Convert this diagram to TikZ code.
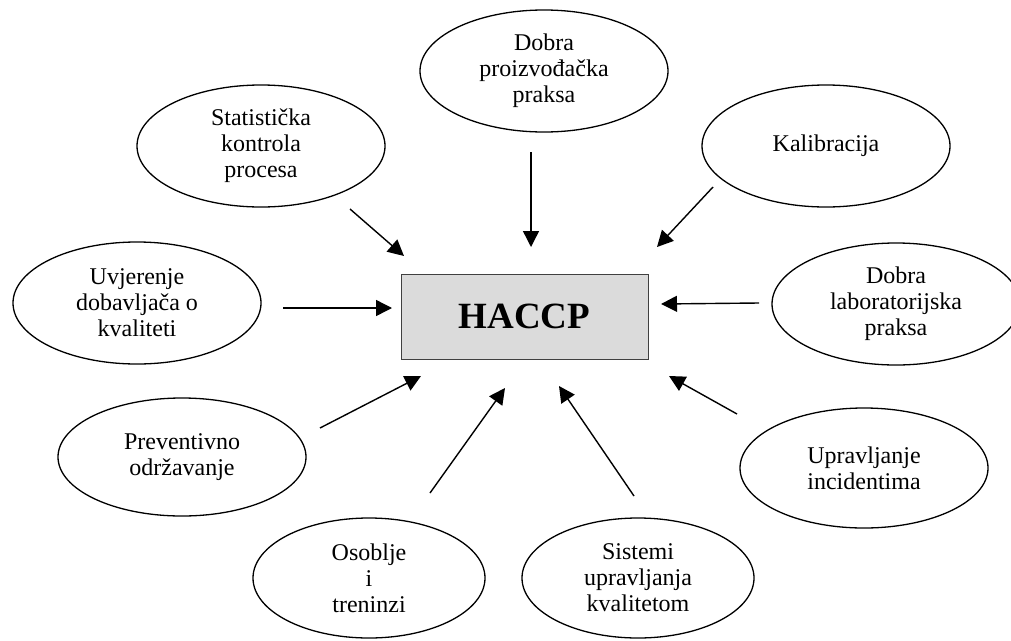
\documentclass[tikz,border=0pt]{standalone}
\usepackage{fontspec}
\setmainfont{Liberation Serif}
\usetikzlibrary{shapes.geometric,arrows.meta}

\begin{document}
\begin{tikzpicture}[x=1pt,y=-1pt,
  topic/.style={ellipse,draw=black,line width=1.3pt,inner sep=0pt,
    minimum width=248pt,minimum height=122pt,align=center,
    font=\fontsize{24}{26}\selectfont},
  small/.style={minimum width=232pt,minimum height=120pt},
  core/.style={rectangle,draw=black!75,line width=1pt,fill=black!14,
    minimum width=247pt,minimum height=85pt,inner sep=0pt,
    font=\fontsize{37}{40}\selectfont\bfseries},
  feed/.style={line width=1.4pt,-{Triangle[length=16pt,width=16pt]}}]
\useasboundingbox (0,0) rectangle (1011,640);
\begin{scope}
\clip (0,0) rectangle (1011,640);

% central box
\node[core] (haccp) at (524.5,316.5) {HACCP};

% surrounding topics
\node[topic] (gmp)  at (544,71)  {Dobra\\proizvođačka\\praksa};
\node[topic] (spc)  at (261,146) {Statistička\\kontrola\\procesa};
\node[topic] (kal)  at (826,146) {Kalibracija};
\node[topic] (uvj)  at (137,303) {Uvjerenje\\dobavljača o\\kvaliteti};
\node[topic] (glp)  at (896,304) {Dobra\\laboratorijska\\praksa};
\node[topic,minimum height=118pt] (prev) at (182,457) {Preventivno\\održavanje};
\node[topic,minimum height=120pt] (inc)  at (864,468) {Upravljanje\\incidentima};
\node[topic,small] (osob) at (369,578) {Osoblje\\i\\treninzi};
\node[topic,small] (qms)  at (638,578) {Sistemi\\upravljanja\\kvalitetom};
\end{scope}

% arrow ends
\coordinate (gmp-s)  at (531,152); \coordinate (gmp-t)  at (531,247);
\coordinate (spc-s)  at (350,209); \coordinate (spc-t)  at (404,256);
\coordinate (kal-s)  at (713,187); \coordinate (kal-t)  at (657,247);
\coordinate (uvj-s)  at (283,308); \coordinate (uvj-t)  at (392,308);
\coordinate (glp-s)  at (759,303); \coordinate (glp-t)  at (661,304);
\coordinate (prev-s) at (320,428); \coordinate (prev-t) at (421,376);
\coordinate (inc-s)  at (737,414); \coordinate (inc-t)  at (669,376);
\coordinate (osob-s) at (430,493); \coordinate (osob-t) at (505,388);
\coordinate (qms-s)  at (634,496); \coordinate (qms-t)  at (559,386);

\foreach \n in {gmp,spc,kal,uvj,glp,prev,inc,osob,qms}
  \draw[feed] (\n-s) -- (\n-t);
\end{tikzpicture}
\end{document}
